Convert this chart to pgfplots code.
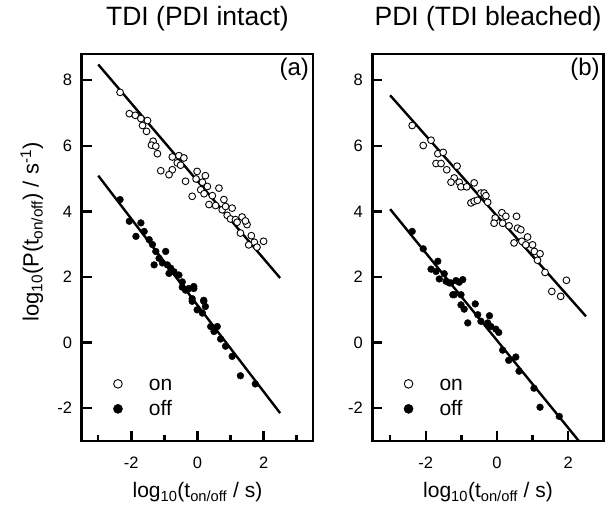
\documentclass[border=0pt]{standalone}
\usepackage{fontspec}
\setmainfont{Liberation Sans}
\usepackage{pgfplots}
\pgfplotsset{compat=1.18}

\pgfplotsset{
  panel/.style={
    scale only axis, width=231.5pt, height=387pt,
    ymin=-3, ymax=8.8, xmin=-3.5,
    axis line style={line width=2.6pt},
    tick align=inside, xtick pos=lower, ytick pos=left,
    xtick={-2,0,2}, minor xtick={-3,-1,1,3}, ytick={-2,0,2,4,6,8},
    major tick length=10pt, minor tick length=6pt,
    every tick/.style={line width=2.4pt, black},
    tick label style={font=\fontsize{16.5}{16.5}\selectfont},
    /pgf/number format/assume math mode=true,
    title style={font=\fontsize{26.5}{26.5}\selectfont, anchor=base, at={(0.5,1)}, yshift=22pt},
    xlabel style={font=\fontsize{21}{21}\selectfont, anchor=base, at={(0.5,0)}, yshift=-57pt},
    xlabel={log\textsubscript{10}(t\textsubscript{on/off} / s)},
    xticklabel style={yshift=-12pt},
    yticklabel style={xshift=-6pt},
    legend style={draw=none, fill=none, font=\fontsize{21}{21}\selectfont,
      at={(axis description cs:0.135,0.165)}, anchor=north west,
      inner sep=0pt, row sep=8pt,
      nodes={inner sep=0pt, text height=13pt, text depth=4pt}},
    legend cell align=left,
  },
  on/.style={only marks, mark=*, mark size=3.4pt, mark options={line width=0.9pt, fill=white, draw=black}},
  off/.style={only marks, mark=*, mark size=3.4pt, black},
  onleg/.style={legend image code/.code={\path[draw=none,fill=none] (-4.6pt,0pt) rectangle (31pt,1pt); \draw[black, fill=white, line width=0.9pt] (0pt,2pt) circle[radius=4.3pt];}},
  offleg/.style={legend image code/.code={\path[draw=none,fill=none] (-4.6pt,0pt) rectangle (31pt,1pt); \fill[black] (0pt,2pt) circle[radius=4.6pt];}},
  fit/.style={no marks, line width=2.4pt, black},
}

\begin{document}
\begin{tikzpicture}
\useasboundingbox (0,0) rectangle (608pt,519pt);

\begin{axis}[panel, at={(81.7pt,78pt)}, anchor=south west, xmax=3.5,
  title={TDI (PDI intact)},
  ylabel={log\textsubscript{10}(P(t\textsubscript{on/off}) / s\textsuperscript{-1})},
  ylabel style={font=\fontsize{22}{22}\selectfont, anchor=center, at={(axis description cs:-0.215,0.54)}}]
\addplot[fit, forget plot] coordinates {(-3,8.48) (2.5,1.97)};
\addplot[fit, forget plot] coordinates {(-3,5.09) (2.5,-2.15)};
\addplot[on, forget plot] coordinates {
(-2.34,7.63) (-2.06,6.98) (-1.88,6.93) (-1.71,6.83) (-1.51,6.77) (-1.66,6.62)
(-1.54,6.44) (-1.34,6.14) (-1.39,6.02) (-1.26,5.99) (-1.21,5.76) (-0.76,5.66)
(-0.56,5.70) (-0.41,5.63) (-0.61,5.48) (-0.76,5.27) (-1.11,5.24) (-0.86,5.12)
(-0.51,5.41) (-0.36,4.92) (-0.16,4.46) (-0.01,5.22) (0.24,5.09) (-0.04,4.99)
(0.15,4.89) (0.30,4.76) (0.10,4.66) (0.20,4.54) (0.45,4.48) (0.35,4.21)
(0.65,4.71) (0.80,4.36) (0.55,4.18) (0.75,4.05) (0.85,4.15) (1.05,4.10)
(0.90,3.88) (1.00,3.77) (1.15,3.75) (1.20,3.67) (1.35,3.83) (1.50,3.60)
(1.30,3.34) (1.63,3.26) (1.72,3.06) (1.55,2.98) (1.80,2.91) (2.00,3.09)
(1.45,3.71)
};
\addplot[off, forget plot] coordinates {
(-2.34,4.36) (-2.06,3.70) (-1.71,3.65) (-1.86,3.24) (-1.61,3.39) (-1.46,3.14)
(-1.36,2.99) (-1.26,2.78) (-0.96,2.78) (-1.16,2.57) (-1.31,2.37) (-1.06,2.43)
(-0.91,2.37) (-0.81,2.27) (-0.71,2.16) (-0.86,2.11) (-0.56,2.06) (-0.46,1.85)
(-0.36,1.60) (-0.26,1.65) (-0.11,1.65) (-0.16,1.34) (0.19,1.29)
(-0.46,1.69) (-0.31,1.61) (-0.11,1.71) (-0.16,1.26) (0.19,1.26) (0.24,1.10)
(-0.01,1.00) (0.15,0.90) (0.40,0.49) (0.60,0.49) (0.50,0.34) (0.70,0.11)
(0.85,-0.11) (1.05,-0.42) (1.30,-1.01) (1.75,-1.26)
};
\addlegendimage{onleg}\addlegendentry{on}
\addlegendimage{offleg}\addlegendentry{off}
\node[font=\fontsize{24}{24}\selectfont, anchor=north east, inner sep=4pt] at (rel axis cs:1,1) {(a)};
\end{axis}

\begin{axis}[panel, at={(372.3pt,78pt)}, anchor=south west, xmax=3,
  title={PDI (TDI bleached)}]
\addplot[fit, forget plot] coordinates {(-3,7.54) (2.5,0.80)};
\addplot[fit, forget plot] coordinates {(-3,4.07) (2.3,-3.0)};
\addplot[on, forget plot] coordinates {
(-2.38,6.62) (-1.85,6.17) (-2.07,6.01) (-1.66,5.76) (-1.51,5.80) (-1.71,5.46)
(-1.57,5.46) (-1.41,5.27) (-1.12,5.38) (-1.20,5.02) (-1.29,4.89) (-1.06,4.89)
(-1.01,4.75) (-0.85,4.75) (-0.64,4.87) (-0.73,4.26) (-0.64,4.31) (-0.55,4.34)
(-0.45,4.56) (-0.36,4.56) (-0.31,4.48) (-0.26,4.28) (-0.05,3.80) (-0.08,3.64)
(0.14,3.96) (0.25,3.85) (0.16,3.64) (0.34,3.56) (0.55,3.85) (0.58,3.49)
(0.67,3.44) (0.48,3.04) (0.70,3.09) (0.86,3.22) (0.81,2.98) (1.00,2.98)
(1.05,2.78) (1.21,2.71) (1.14,2.51) (1.35,2.14) (1.54,1.56) (1.79,1.41)
(1.95,1.90)
};
\addplot[off, forget plot] coordinates {
(-2.38,3.39) (-2.07,2.86) (-1.66,2.48) (-1.85,2.24) (-1.71,2.17) (-1.48,2.10)
(-1.62,1.94) (-1.43,1.87) (-1.34,1.82) (-1.15,1.89) (-0.96,1.92) (-1.24,1.46)
(-1.29,1.82) (-1.06,1.84) (-1.20,1.46) (-1.01,1.46) (-1.01,1.15) (-0.92,1.02)
(-0.61,1.18) (-0.82,0.60) (-0.54,0.85) (-0.45,0.65) (-0.26,0.60) (-0.21,0.82)
(-0.17,0.49) (-0.03,0.41) (0.05,0.31) (0.16,-0.23) (0.33,-0.54) (0.53,-0.44)
(0.62,-0.87) (1.04,-1.39) (1.21,-1.97) (1.75,-2.25)
};
\addlegendimage{onleg}\addlegendentry{on}
\addlegendimage{offleg}\addlegendentry{off}
\node[font=\fontsize{24}{24}\selectfont, anchor=north east, inner sep=4pt] at (rel axis cs:1,1) {(b)};
\end{axis}
\end{tikzpicture}
\end{document}
